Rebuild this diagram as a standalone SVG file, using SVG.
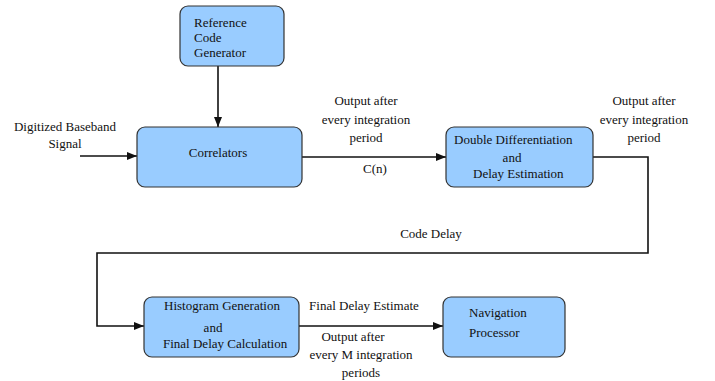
<svg xmlns="http://www.w3.org/2000/svg" width="715" height="381" viewBox="0 0 715 381">
  <style>
    .box { fill: #99ccff; stroke: #333333; stroke-width: 1.2; }
    .lbl { font-family: "Liberation Serif", "Times New Roman", serif; font-size: 13px; fill: #111111; }
    .mid { text-anchor: middle; }
    .wire { fill: none; stroke: #111111; stroke-width: 1.6; }
  </style>
  <defs>
    <marker id="arrow" viewBox="0 0 10 8" refX="10" refY="4" markerWidth="10" markerHeight="8" markerUnits="userSpaceOnUse" orient="auto">
      <path d="M0,0 L10,4 L0,8 Z" fill="#111111"/>
    </marker>
  </defs>
  <rect width="715" height="381" fill="#ffffff"/>

  <!-- connectors -->
  <g id="connectors">
    <line class="wire" x1="218" y1="66" x2="218" y2="127" marker-end="url(#arrow)"/>
    <line class="wire" x1="80" y1="156" x2="137" y2="156" marker-end="url(#arrow)"/>
    <line class="wire" x1="302" y1="157" x2="446" y2="157" marker-end="url(#arrow)"/>
    <polyline class="wire" points="593,157 648,157 648,253 97,253 97,326 144,326" marker-end="url(#arrow)"/>
    <line class="wire" x1="299" y1="326" x2="443" y2="326" marker-end="url(#arrow)"/>
  </g>

  <!-- connector labels -->
  <g id="labels">
    <text class="lbl mid" x="65" y="131">Digitized Baseband</text>
    <text class="lbl mid" x="65" y="148">Signal</text>
    <text class="lbl mid" x="366" y="105">Output after</text>
    <text class="lbl mid" x="366" y="124">every integration</text>
    <text class="lbl mid" x="366" y="142">period</text>
    <text class="lbl mid" x="375" y="173">C(n)</text>
    <text class="lbl mid" x="644" y="105">Output after</text>
    <text class="lbl mid" x="644" y="124">every integration</text>
    <text class="lbl mid" x="644" y="142">period</text>
    <text class="lbl mid" x="431" y="238">Code Delay</text>
    <text class="lbl mid" x="364" y="310">Final Delay Estimate</text>
    <text class="lbl mid" x="353" y="341">Output after</text>
    <text class="lbl mid" x="361" y="359">every M integration</text>
    <text class="lbl mid" x="361" y="377">periods</text>
  </g>

  <g id="ref-code-gen">
    <rect class="box" x="180" y="6" width="104" height="60" rx="8"/>
    <text class="lbl" x="194" y="27">Reference</text>
    <text class="lbl" x="194" y="42">Code</text>
    <text class="lbl" x="194" y="57">Generator</text>
  </g>

  <g id="correlators">
    <rect class="box" x="137" y="127" width="165" height="60" rx="8"/>
    <text class="lbl mid" x="218" y="157">Correlators</text>
  </g>

  <g id="double-diff">
    <rect class="box" x="446" y="127" width="147" height="60" rx="8"/>
    <text class="lbl" x="454" y="144">Double Differentiation</text>
    <text class="lbl mid" x="512" y="162">and</text>
    <text class="lbl" x="473" y="178">Delay Estimation</text>
  </g>

  <g id="histogram">
    <rect class="box" x="144" y="297" width="155" height="60" rx="8"/>
    <text class="lbl" x="164" y="310">Histogram Generation</text>
    <text class="lbl mid" x="213" y="332">and</text>
    <text class="lbl" x="163" y="348">Final Delay Calculation</text>
  </g>

  <g id="navigation">
    <rect class="box" x="443" y="297" width="122" height="60" rx="8"/>
    <text class="lbl" x="469" y="317">Navigation</text>
    <text class="lbl" x="469" y="337">Processor</text>
  </g>
</svg>
